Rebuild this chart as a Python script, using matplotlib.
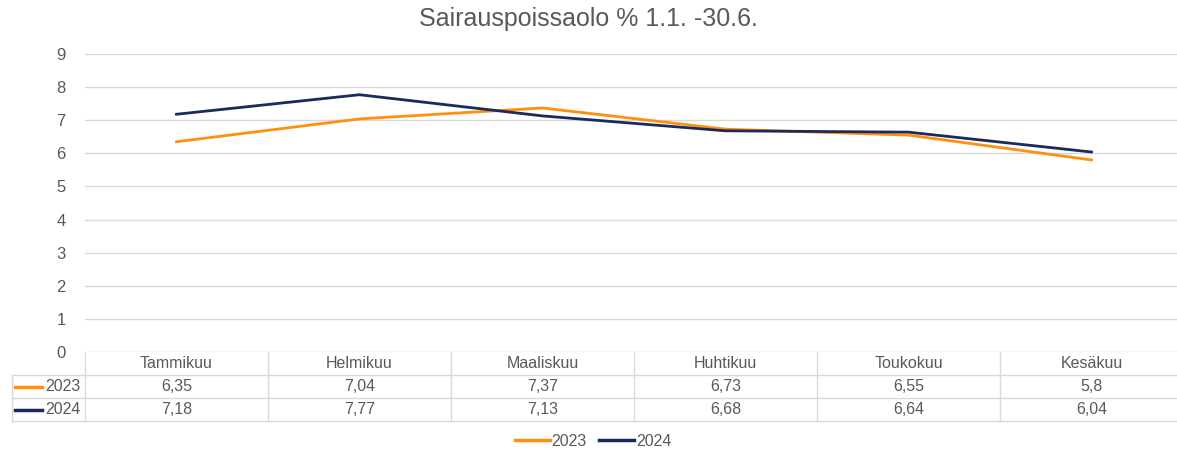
import matplotlib.pyplot as plt
from matplotlib.lines import Line2D

plt.rcParams['font.family'] = ['Liberation Sans', 'DejaVu Sans']

kuukaudet = ["Tammikuu", "Helmikuu", "Maaliskuu", "Huhtikuu", "Toukokuu", "Kesäkuu"]
arvot_2023 = [6.35, 7.04, 7.37, 6.73, 6.55, 5.8]
arvot_2024 = [7.18, 7.77, 7.13, 6.68, 6.64, 6.04]
nimet = ["2023", "2024"]
varit = ["#FF8F0F", "#1B2A5C"]
teksti = "#595959"
viiva = "#D9D9D9"

# piirtoalue jatkuu hieman kuvan oikean reunan yli
leveys = 1098
fig = plt.figure(figsize=(11.77, 4.5), dpi=100)
ax = fig.add_axes([85/1177, 1 - 352/450, leveys/1177, 298/450])

x = range(len(kuukaudet))
ax.plot(x, arvot_2023, color=varit[0], lw=2.0)
ax.plot(x, arvot_2024, color=varit[1], lw=2.0)

ax.set_xlim(-0.5, len(kuukaudet) - 0.5)
ax.set_ylim(0, 9)
ax.set_yticks(range(10))
ax.set_xticks([])
ax.tick_params(axis='y', length=0, pad=14, labelsize=12, labelcolor=teksti)
ax.grid(axis='y', color=viiva, lw=1)
ax.set_axisbelow(True)
for s in ax.spines.values():
    s.set_visible(False)

fig.suptitle("Sairauspoissaolo % 1.1. -30.6.", y=0.985, fontsize=18, color=teksti)

# taulukko kuvaajan alle
rivi = 23 / 298
vasen = (12 - 85) / leveys
n = len(kuukaudet)
kw = dict(transform=ax.transAxes, color=viiva, lw=1, clip_on=False)
for r in range(1, 4):
    ax.add_line(Line2D([vasen, 1], [-r * rivi, -r * rivi], **kw))
ax.add_line(Line2D([vasen, vasen], [-rivi, -3 * rivi], **kw))
for c in range(n + 1):
    ax.add_line(Line2D([c / n, c / n], [0, -3 * rivi], **kw))

for i, k in enumerate(kuukaudet):
    ax.text((i + 0.5) / n, -0.5 * rivi, k, transform=ax.transAxes, ha='center',
            va='center', fontsize=11.5, color=teksti)
for r, (nimi, arvot) in enumerate(zip(nimet, [arvot_2023, arvot_2024])):
    yy = -(r + 1.5) * rivi
    ax.add_line(Line2D([(15 - 85) / leveys, (42 - 85) / leveys], [yy, yy], transform=ax.transAxes,
                       color=varit[r], lw=2.5, clip_on=False))
    ax.text((81 - 85) / leveys, yy, nimi, transform=ax.transAxes, ha='right', va='center',
            fontsize=11.5, color=teksti)
    for i, v in enumerate(arvot):
        ax.text((i + 0.5) / n, yy, f"{v:g}".replace('.', ','), transform=ax.transAxes,
                ha='center', va='center', fontsize=11.5, color=teksti)

kahvat = [Line2D([], [], color=c, lw=2.5) for c in varit]
fig.legend(kahvat, nimet, loc='center', bbox_to_anchor=(593/1177, 1 - 441/450), ncol=2,
           frameon=False, fontsize=11.5, labelcolor=teksti, handlelength=2.2,
           handletextpad=0.1, columnspacing=0.8)

fig.savefig("out.png", dpi=100)
